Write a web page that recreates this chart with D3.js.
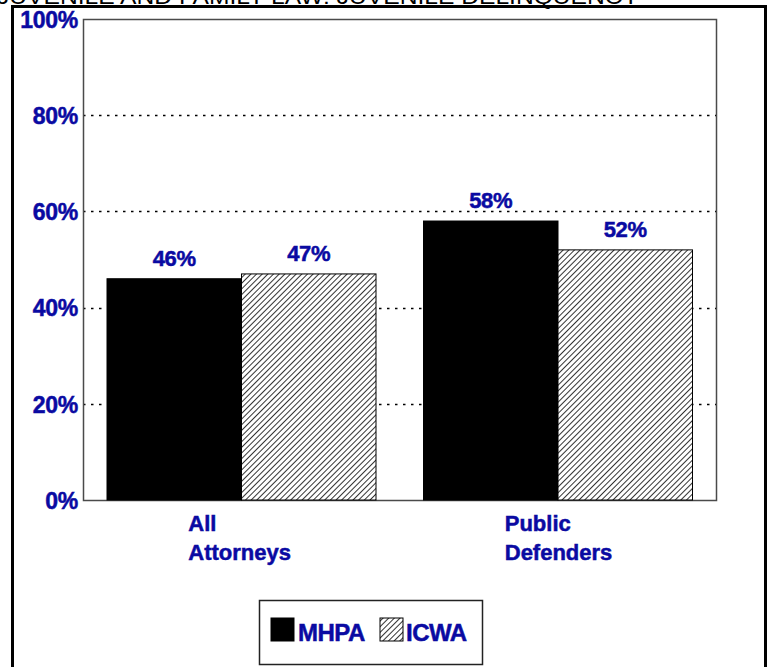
<!DOCTYPE html>
<html>
<head>
<meta charset="utf-8">
<script src="https://cdn.jsdelivr.net/npm/d3@7"></script>
<style>
  body { margin: 0; background: #fff; }
  svg { display: block; }
  text { font-family: "Liberation Sans", Arial, sans-serif; }
  .heavy { stroke: #0a0aa2; stroke-width: 0.5; }
</style>
</head>
<body>
<div id="chart"></div>
<script>
// data
const categories = [["All", "Attorneys"], ["Public", "Defenders"]];
const categoryKeys = ["All Attorneys", "Public Defenders"];
const seriesNames = ["MHPA", "ICWA"];
const mhpaValues = [46, 58];
const icwaValues = [47, 52];
const yTicks = [0, 20, 40, 60, 80, 100];
const titleText = "JUVENILE AND FAMILY LAW: JUVENILE DELINQUENCY";

const width = 773, height = 667;
const blue = "#0a0aa2";
const plot = { left: 83, top: 19, right: 716, bottom: 500 };

const svg = d3.select("#chart").append("svg")
    .attr("width", width)
    .attr("height", height);

// hatch pattern for ICWA
const defs = svg.append("defs");
const pat = defs.append("pattern")
    .attr("id", "hatch")
    .attr("patternUnits", "userSpaceOnUse")
    .attr("width", 4)
    .attr("height", 4)
    .attr("patternTransform", "rotate(45)");
pat.append("rect").attr("width", 4).attr("height", 4).attr("fill", "#fff");
pat.append("line")
    .attr("x1", 0).attr("y1", 0).attr("x2", 0).attr("y2", 4)
    .attr("stroke", "#000").attr("stroke-width", 1.6);

// title, mostly cut off above the page (as in the source)
svg.append("text")
    .attr("x", -3)
    .attr("y", 4)
    .attr("font-size", 22)
    .attr("fill", "#000")
    .attr("textLength", 642)
    .attr("lengthAdjust", "spacingAndGlyphs")
    .text(titleText);

// outer frame
svg.append("rect")
    .attr("x", 12.5).attr("y", 6.5)
    .attr("width", 753).attr("height", 700)
    .attr("fill", "none")
    .attr("stroke", "#000")
    .attr("stroke-width", 3);

const y = d3.scaleLinear().domain([0, 100]).range([plot.bottom, plot.top]);
const x0 = d3.scaleBand().domain(categoryKeys).range([plot.left, plot.right]).padding(0);
const x1 = d3.scaleBand().domain(seriesNames)
    .range([24, x0.bandwidth() - 23.5]);

// dotted gridlines
svg.append("g").selectAll("line")
    .data(yTicks.filter(d => d > 0 && d < 100))
    .join("line")
    .attr("x1", plot.left).attr("x2", plot.right)
    .attr("y1", d => Math.round(y(d)) + 0.5)
    .attr("y2", d => Math.round(y(d)) + 0.5)
    .attr("stroke", "#000")
    .attr("stroke-width", 1.3)
    .attr("stroke-dasharray", "2.5,5.5");

// plot frame
svg.append("rect")
    .attr("x", plot.left + 0.5).attr("y", plot.top + 0.5)
    .attr("width", plot.right - plot.left)
    .attr("height", plot.bottom - plot.top)
    .attr("fill", "none")
    .attr("stroke", "#4a4a4a")
    .attr("stroke-width", 1.5);

// y axis labels
const yAxis = d3.axisLeft(y)
    .tickValues(yTicks)
    .tickSize(0)
    .tickPadding(5)
    .tickFormat(d => d + "%");
svg.append("g")
    .attr("transform", `translate(${plot.left},0)`)
    .call(yAxis)
    .call(g => g.select(".domain").remove())
    .call(g => g.selectAll("text")
        .attr("class", "heavy")
        .attr("fill", blue)
        .attr("font-size", 23)
        .attr("font-weight", "bold")
        .attr("letter-spacing", -0.3)
        .attr("font-family", "Liberation Sans, Arial, sans-serif")
        .attr("dy", "0.36em"));

// bars
const rows = categoryKeys.map((k, i) => ({
    key: k,
    values: [
        { name: "MHPA", value: mhpaValues[i] },
        { name: "ICWA", value: icwaValues[i] }
    ]
}));

const groups = svg.append("g").selectAll("g")
    .data(rows)
    .join("g")
    .attr("transform", d => `translate(${x0(d.key)},0)`);

groups.selectAll("rect")
    .data(d => d.values)
    .join("rect")
    .attr("x", d => x1(d.name))
    .attr("y", d => y(d.value))
    .attr("width", x1.bandwidth())
    .attr("height", d => y(0) - y(d.value))
    .attr("fill", d => d.name === "MHPA" ? "#000" : "url(#hatch)")
    .attr("stroke", "#000")
    .attr("stroke-width", 1);

groups.selectAll("text.val")
    .data(d => d.values)
    .join("text")
    .attr("class", "val heavy")
    .attr("x", d => x1(d.name) + x1.bandwidth() / 2)
    .attr("y", d => y(d.value) - 13)
    .attr("text-anchor", "middle")
    .attr("fill", blue)
    .attr("font-size", 22)
    .attr("font-weight", "bold")
    .attr("letter-spacing", -0.3)
    .text(d => d.value + "%");

// category labels
const catLabels = svg.append("g").selectAll("text")
    .data(categories)
    .join("text")
    .attr("class", "heavy")
    .attr("x", (d, i) => x0(categoryKeys[i]) + x0.bandwidth() / 2 - 53)
    .attr("y", 531)
    .attr("fill", blue)
    .attr("font-size", 22)
    .attr("font-weight", "bold");
catLabels.selectAll("tspan")
    .data(d => d)
    .join("tspan")
    .attr("x", function () { return d3.select(this.parentNode).attr("x"); })
    .attr("dy", (d, i) => i === 0 ? 0 : 29)
    .text(d => d);

// legend
const legend = svg.append("g").attr("transform", "translate(259,600)");
legend.append("rect")
    .attr("x", 0.5).attr("y", 0.5)
    .attr("width", 223).attr("height", 64)
    .attr("fill", "#fff")
    .attr("stroke", "#222")
    .attr("stroke-width", 1.5);

const legendItems = [
    { name: seriesNames[0], sx: 12, tx: 39, fill: "#000" },
    { name: seriesNames[1], sx: 121, tx: 147, fill: "url(#hatch)" }
];
legend.selectAll("rect.sw")
    .data(legendItems)
    .join("rect")
    .attr("class", "sw")
    .attr("x", d => d.sx)
    .attr("y", 18)
    .attr("width", 23)
    .attr("height", 23)
    .attr("fill", d => d.fill)
    .attr("stroke", "#000")
    .attr("stroke-width", 1);
legend.selectAll("text")
    .data(legendItems)
    .join("text")
    .attr("class", "heavy")
    .attr("x", d => d.tx)
    .attr("y", 41)
    .attr("fill", blue)
    .attr("font-size", 24)
    .attr("font-weight", "bold")
    .attr("letter-spacing", -0.5)
    .text(d => d.name);
</script>
</body>
</html>
